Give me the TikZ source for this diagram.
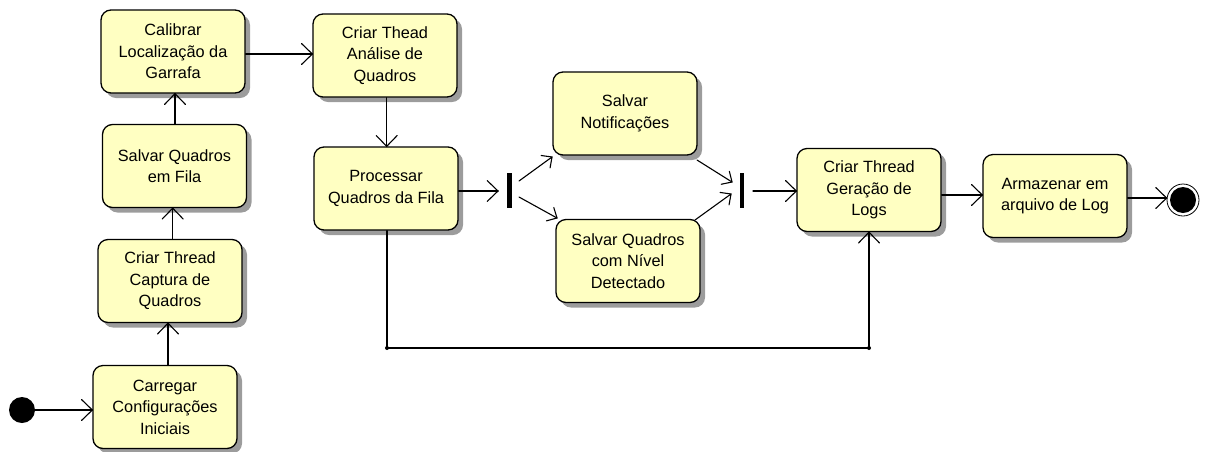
\documentclass[tikz,border=0pt]{standalone}
\usepackage{fontspec}
\setmainfont{Liberation Sans}
\usetikzlibrary{calc,shadows}
\definecolor{actfill}{HTML}{FFFFC2}
\definecolor{shadowgray}{HTML}{9C9C9C}
\tikzset{
  act/.style={draw=black, line width=1.3pt, rounded corners=10pt, fill=actfill,
    minimum width=144pt, minimum height=83pt, align=center, inner sep=2pt,
    font=\fontsize{16.3pt}{21.5pt}\selectfont,
    drop shadow={shadow xshift=5pt, shadow yshift=-5pt, fill=shadowgray, opacity=1}},
  bar/.style={fill=black, draw=none, minimum width=4.5pt, minimum height=35pt, inner sep=0pt},
  plain/.style={line width=1.1pt, line cap=round, line join=miter},
  junction/.style={circle, fill=black, inner sep=0pt, minimum size=4pt},
}
% connector from #1 to #2 with an open V head of arm length #3
\newcommand{\flowline}[3]{%
  \draw[plain] (#1) -- (#2);
  \draw[plain] ($(#2)!#3!44:(#1)$) -- (#2) -- ($(#2)!#3!-44:(#1)$);}
\begin{document}
\begin{tikzpicture}[x=1pt,y=-1pt]
\useasboundingbox (0,0) rectangle (1210,451);
% activity nodes
\node[act] (calib) at (173,51.5) {Calibrar\\Localização da\\Garrafa};
\node[act] (fila) at (174.5,166) {Salvar Quadros\\em Fila};
\node[act] (captura) at (170,281) {Criar Thread\\Captura de\\Quadros};
\node[act] (carregar) at (165,407) {Carregar\\Configurações\\Iniciais};
\node[act] (analise) at (385,55.5) {Criar Thead\\Análise de\\Quadros};
\node[act] (proc) at (386,188.5) {Processar\\Quadros da Fila};
\node[act] (notif) at (625,113.5) {Salvar\\Notificações};
\node[act] (nivel) at (628,261) {Salvar Quadros\\com Nível\\Detectado};
\node[act] (geracao) at (869,190) {Criar Thread\\Geração de\\Logs};
\node[act] (armaz) at (1055,196) {Armazenar em\\arquivo de Log};
% bars
\node[bar] (fork) at (509.5,190.5) {};
\node[bar] (join) at (742,190.5) {};
% start / end
\node[circle, fill=black, minimum size=26pt, inner sep=0pt] (start) at (22,410) {};
\node[circle, draw=black, line width=0.8pt, fill=white, minimum size=32pt, inner sep=0pt] (final) at (1183,200) {};
\node[circle, fill=black, minimum size=26pt, inner sep=0pt] (finalin) at (final.center) {};
\node[junction] (ja) at (387,348) {};
\node[junction] (jb) at (869,348) {};
% connector end points
\coordinate (c1) at (168,0);
\coordinate (c2) at (172.7,0);
\coordinate (c3) at (175,0);
\coordinate (r1) at (0,54);
\coordinate (v1) at (386.7,0);
\coordinate (h1) at (0,191);
\coordinate (h3) at (0,195);
\coordinate (h4) at (0,198);
\coordinate (a0) at (start.east);
\coordinate (a1) at (start -| carregar.west);
\coordinate (b0) at (c1 |- carregar.north);
\coordinate (b1) at (c1 |- captura.south);
\coordinate (d0) at (c2 |- captura.north);
\coordinate (d1) at (c2 |- fila.south);
\coordinate (e0) at (c3 |- fila.north);
\coordinate (e1) at (c3 |- calib.south);
\coordinate (g0) at (r1 -| calib.east);
\coordinate (g1) at (r1 -| analise.west);
\coordinate (k0) at (v1 |- analise.south);
\coordinate (k1) at (v1 |- proc.north);
\coordinate (m0) at (h1 -| proc.east);
\coordinate (m1) at (498,191);
\coordinate (fu0) at (519,181);
\coordinate (fu1) at (552,157);
\coordinate (fl0) at (519,197);
\coordinate (fl1) at (557,218);
\coordinate (ju0) at (697,160);
\coordinate (ju1) at (732,182);
\coordinate (jl0) at (695,220);
\coordinate (jl1) at (731,194);
\coordinate (n0) at (753,191);
\coordinate (n1) at (n0 -| geracao.west);
\coordinate (p0) at (h3 -| geracao.east);
\coordinate (p1) at (h3 -| armaz.west);
\coordinate (q0) at (h4 -| armaz.east);
\coordinate (q1) at (h4 -| final.west);
\coordinate (t1) at (jb |- geracao.south);
% connectors
\flowline{a0}{a1}{15pt}
\flowline{b0}{b1}{15pt}
\flowline{d0}{d1}{15pt}
\flowline{e0}{e1}{15pt}
\flowline{g0}{g1}{15pt}
\flowline{k0}{k1}{15pt}
\flowline{m0}{m1}{15pt}
\flowline{fu0}{fu1}{11pt}
\flowline{fl0}{fl1}{11pt}
\flowline{ju0}{ju1}{11pt}
\flowline{jl0}{jl1}{11pt}
\flowline{n0}{n1}{15pt}
\flowline{p0}{p1}{15pt}
\flowline{q0}{q1}{15pt}
\draw[plain] (ja |- proc.south) -- (ja.center) -- (jb.center);
\flowline{jb.center}{t1}{15pt}
\end{tikzpicture}
\end{document}
